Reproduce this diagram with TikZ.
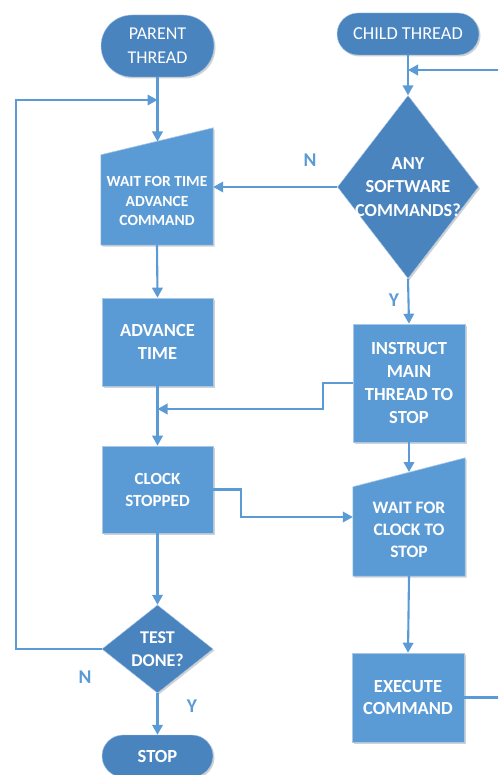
\documentclass[tikz,border=0pt]{standalone}
\usepackage{fontspec}
\setmainfont{Carlito}
\usetikzlibrary{arrows.meta,shapes.geometric,shadows,calc}
\definecolor{boxblue}{HTML}{5B9BD5}
\definecolor{darkblue}{HTML}{4A84BF}
\definecolor{lineblue}{HTML}{5B9BD5}
\definecolor{boxedge}{HTML}{A9C8E8}
\begin{document}
\begin{tikzpicture}[x=1pt,y=-1pt,
  shad/.style={drop shadow={shadow xshift=1.5pt,shadow yshift=-1.5pt,opacity=0.18,fill=black}},
  procbox/.style={rectangle,inner sep=0pt,align=center,text=white,fill=boxblue,draw=boxedge,line width=0.6pt,shad},
  term/.style={rectangle,inner sep=0pt,align=center,text=white,fill=darkblue,draw=boxedge,line width=0.4pt,shad},
  decis/.style={diamond,inner sep=0pt,fill=darkblue,draw=boxedge,line width=0.4pt,shad},
  ghost/.style={rectangle,inner sep=0pt,draw=none,fill=none},
  txt/.style={inner sep=0pt,align=center,text=white},
  lbl/.style={inner sep=0pt,text=lineblue,font=\fontsize{19.5}{20}\selectfont\bfseries},
  conn/.style={draw=lineblue,line width=2.1pt,-{Triangle[length=10pt,width=10.5pt]}}]
\useasboundingbox (0,0) rectangle (498,775);
\clip (0,0) rectangle (498,775);

% terminals
\node[term,minimum width=113pt,minimum height=62pt,rounded corners=31pt,font=\fontsize{18}{24}\selectfont] (parent) at (157.5,46) {PARENT\\THREAD};
\node[term,minimum width=142pt,minimum height=42pt,rounded corners=21pt,font=\fontsize{18.3}{22}\selectfont] (child) at (408,34) {CHILD THREAD};
\node[term,minimum width=111pt,minimum height=42pt,rounded corners=21pt,font=\fontsize{18.5}{22}\selectfont\bfseries] (stop) at (157.5,756) {STOP};

% decisions
\node[decis,minimum width=141pt,minimum height=183pt] (any) at (408,187) {};
\node[txt,font=\fontsize{18.3}{23.5}\selectfont\bfseries] (anyt) at (408,187) {ANY\\SOFTWARE\\COMMANDS?};
\node[decis,minimum width=111pt,minimum height=88pt] (test) at (157.5,649) {};
\node[txt,font=\fontsize{18}{23}\selectfont\bfseries] (testt) at (157.5,649) {TEST\\DONE?};

% manual input shapes
\node[ghost,minimum width=112pt,minimum height=117pt] (wait1) at (157,186.5) {};
\fill[boxblue,draw=boxedge,line width=0.6pt,shad] (wait1.south west) -- (wait1.south east) -- (wait1.north east) -- ($(wait1.north west)+(0,27)$) -- cycle;
\node[txt,font=\fontsize{15.5}{19.5}\selectfont\bfseries] (wait1t) at (157,201) {WAIT FOR TIME\\ADVANCE\\COMMAND};

\node[ghost,minimum width=112pt,minimum height=118pt] (wait2) at (409,517) {};
\fill[boxblue,draw=boxedge,line width=0.6pt,shad] (wait2.south west) -- (wait2.south east) -- (wait2.north east) -- ($(wait2.north west)+(0,29)$) -- cycle;
\node[txt,font=\fontsize{17.5}{22}\selectfont\bfseries] (wait2t) at (409,530) {WAIT FOR\\CLOCK TO\\STOP};

% process boxes
\node[procbox,minimum width=111pt,minimum height=88pt,font=\fontsize{18.5}{23}\selectfont\bfseries] (advance) at (157.5,342) {ADVANCE\\TIME};
\node[procbox,minimum width=111pt,minimum height=87pt,font=\fontsize{17}{22}\selectfont\bfseries] (clock) at (157.5,489.5) {CLOCK\\STOPPED};
\node[procbox,minimum width=112pt,minimum height=118pt,font=\fontsize{18.5}{23.3}\selectfont\bfseries] (instruct) at (409,383) {INSTRUCT\\MAIN\\THREAD TO\\STOP};
\node[procbox,minimum width=112pt,minimum height=89pt,font=\fontsize{18.5}{22.5}\selectfont\bfseries] (exec) at (408,697.5) {EXECUTE\\COMMAND};

% labels
\node[lbl] (n1) at (310,160) {N};
\node[lbl] (y1) at (394,300) {Y};
\node[lbl] (n2) at (85,677) {N};
\node[lbl] (y2) at (192,706) {Y};

% coordinates
\coordinate (w1top) at (157.5,141.5);
\coordinate (pin) at (157.5,100);
\coordinate (lpx) at (16,100);
\coordinate (anyin) at (408,70);
\coordinate (join1) at (157.5,409);
\coordinate (w2top) at (409,472);

% connectors
\draw[conn] (parent.south) -- (w1top);
\draw[conn] (test.west) -| (lpx) -- (pin);
\draw[conn] (any.west) -- (any.west -| wait1.east);
\draw[conn] (child.south) -- (any.north);
\draw[conn] (exec.east) -- ++(45,0) |- (anyin);
\draw[conn] (any.south) -- (instruct.north);
\draw[conn] (wait1.south) -- (advance.north);
\draw[conn] (advance.south) -- (clock.north);
\draw[conn] (instruct.west) -- ++(-30,0) |- (join1);
\draw[conn] (instruct.south) -- (w2top);
\draw[conn] (clock.east) -- ++(28,0) |- (wait2.west);
\draw[conn] (wait2.south) -- (exec.north);
\draw[conn] (clock.south) -- (test.north);
\draw[conn] (test.south) -- (stop.north);
\end{tikzpicture}
\end{document}
